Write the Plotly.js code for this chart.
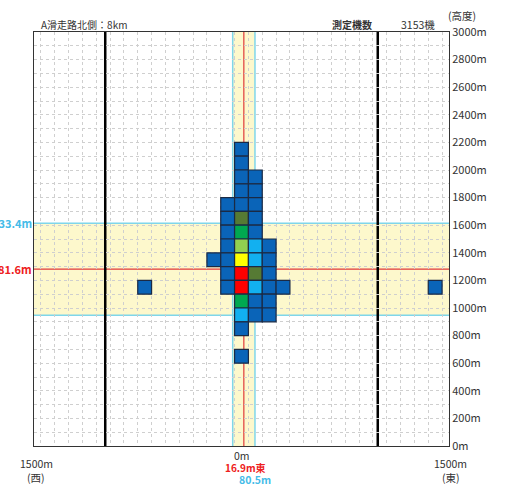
<!DOCTYPE html>
<html>
<head>
<meta charset="utf-8">
<script src="https://cdn.plot.ly/plotly-3.0.1.min.js"></script>
<style>
  html, body { margin: 0; padding: 0; background: #fff; }
  #chart { width: 508px; height: 484px; }
</style>
</head>
<body>
<div id="chart"></div>
<script>
// ---- data ----
const cellX     = [0, 0, 0, 100, 0, 100, -100, 0, 100, -100, 0, 100, -100, 0, 100,
                   -100, 0, 100, 200, -200, -100, 0, 100, 200, -100, 0, 100, 200,
                   -700, -100, 0, 100, 200, 300, 1400, 0, 100, 200, 0, 100, 200, 0, 0];
const cellBase  = [2100, 2000, 1900, 1900, 1800, 1800, 1700, 1700, 1700, 1600, 1600, 1600, 1500, 1500, 1500,
                   1400, 1400, 1400, 1400, 1300, 1300, 1300, 1300, 1300, 1200, 1200, 1200, 1200,
                   1100, 1100, 1100, 1100, 1100, 1100, 1100, 1000, 1000, 1000, 900, 900, 900, 800, 600];
// level: 1 blue, 2 light blue, 3 green, 4 light green, 5 olive, 6 yellow, 7 red
const cellLevel = [1, 1, 1, 1, 1, 1, 1, 1, 1, 1, 5, 1, 1, 3, 1,
                   1, 4, 2, 1, 1, 1, 6, 2, 1, 1, 7, 5, 1,
                   1, 1, 7, 2, 1, 1, 1, 3, 1, 1, 2, 1, 1, 1, 1];
const cellSize = 100;

const yTickVals = [0, 200, 400, 600, 800, 1000, 1200, 1400, 1600, 1800, 2000, 2200, 2400, 2600, 2800, 3000];
const yTickText = yTickVals.map(v => v + 'm');

const meanEast = 16.9;      // m east
const sdX = 80.5;
const meanAlt = 1281.6;
const sdAlt = 333.4;
const runwayEdge = 985;     // black lines
const countText = '3153機';
const titleText = 'A滑走路北側：8km';

// ---- style ----
const palette = {1: '#0a64b8', 2: '#12b0f0', 3: '#00a850', 4: '#92d050', 5: '#567a34', 6: '#ffff00', 7: '#ff0000'};
const FONT = '"Noto Sans CJK JP", "Noto Sans", sans-serif';
const L = 34, R = 449, T = 32, B = 446;
const px2paperX = px => (px - L) / (R - L);
const px2paperY = py => (B - py) / (B - T);

const trace = {
  type: 'bar',
  x: cellX,
  base: cellBase,
  y: cellX.map(() => cellSize),
  width: cellX.map(() => cellSize),
  marker: {color: cellLevel.map(l => palette[l]), line: {color: '#1b2a44', width: 1.2}},
  hoverinfo: 'skip',
  showlegend: false
};

const shapes = [
  {type: 'rect', xref: 'paper', yref: 'y', x0: 0, x1: 1, y0: meanAlt - sdAlt, y1: meanAlt + sdAlt,
   fillcolor: '#fdf8cc', line: {width: 0}, layer: 'below'},
  {type: 'rect', xref: 'x', yref: 'paper', x0: meanEast - sdX, x1: meanEast + sdX, y0: 0, y1: 1,
   fillcolor: '#fdf8cc', line: {width: 0}, layer: 'below'},
  {type: 'line', xref: 'paper', yref: 'y', x0: 0, x1: 1, y0: meanAlt + sdAlt, y1: meanAlt + sdAlt, line: {color: '#7fd6ea', width: 1.5}, layer: 'between'},
  {type: 'line', xref: 'paper', yref: 'y', x0: 0, x1: 1, y0: meanAlt - sdAlt, y1: meanAlt - sdAlt, line: {color: '#7fd6ea', width: 1.5}, layer: 'between'},
  {type: 'line', xref: 'x', yref: 'paper', x0: meanEast - sdX, x1: meanEast - sdX, y0: 0, y1: 1, line: {color: '#7fd6ea', width: 1.5}, layer: 'between'},
  {type: 'line', xref: 'x', yref: 'paper', x0: meanEast + sdX, x1: meanEast + sdX, y0: 0, y1: 1, line: {color: '#7fd6ea', width: 1.5}, layer: 'between'},
  {type: 'line', xref: 'paper', yref: 'y', x0: 0, x1: 1, y0: meanAlt, y1: meanAlt, line: {color: '#e03a3a', width: 1.2}, layer: 'between'},
  {type: 'line', xref: 'x', yref: 'paper', x0: meanEast, x1: meanEast, y0: 0, y1: 1, line: {color: '#e03a3a', width: 1.2}, layer: 'between'},
  {type: 'line', xref: 'x', yref: 'paper', x0: -runwayEdge, x1: -runwayEdge, y0: 0, y1: 1, line: {color: '#000', width: 2.5}, layer: 'between'},
  {type: 'line', xref: 'x', yref: 'paper', x0: runwayEdge, x1: runwayEdge, y0: 0, y1: 1, line: {color: '#000', width: 2.5}, layer: 'between'}
];

const txt = (text, x, y, opts) => Object.assign({
  text: text, x: x, y: y, xref: 'paper', yref: 'paper', showarrow: false,
  xanchor: 'center', yanchor: 'middle', borderpad: 0,
  font: {family: FONT, size: 11, color: '#333'}
}, opts || {});
const f = (size, color) => ({family: FONT, size: size, color: color || '#333'});

const annotations = [
  txt(titleText, px2paperX(40), px2paperY(25), {xanchor: 'left', font: f(10)}),
  txt('<b>測定機数</b>', px2paperX(373), px2paperY(25), {xanchor: 'right', font: f(10)}),
  txt(countText, px2paperX(418), px2paperY(25), {font: f(10.5)}),
  txt('(高度)', px2paperX(462), px2paperY(15), {font: f(10.5)}),
  txt('0m', 0, px2paperY(455), {xref: 'x', font: f(10.5)}),
  txt('1500m', px2paperX(36), px2paperY(463), {font: f(10.5)}),
  txt('(西)', px2paperX(36), px2paperY(478), {font: f(10.5)}),
  txt('1500m', px2paperX(451), px2paperY(463), {font: f(10.5)}),
  txt('(東)', px2paperX(451), px2paperY(478), {font: f(10.5)}),
  txt('<b>' + meanEast + 'm東</b>', meanEast + 10, px2paperY(467), {xref: 'x', font: f(10, '#ee2020')}),
  txt('<b>' + sdX + 'm</b>', meanEast + sdX, px2paperY(480), {xref: 'x', font: f(10.5, '#44bbe8')}),
  txt('<b>' + meanAlt + 'm</b>', 0, meanAlt, {yref: 'y', xanchor: 'right', xshift: -1, font: f(11, '#ee2020')}),
  txt('<b>' + sdAlt + 'm</b>', 0, meanAlt + sdAlt, {yref: 'y', xanchor: 'right', xshift: -1, font: f(11, '#44bbe8')})
];

const layout = {
  width: 508, height: 484,
  margin: {l: L, r: 508 - R, t: T, b: 484 - B, pad: 0},
  paper_bgcolor: '#fff', plot_bgcolor: '#fff',
  barmode: 'overlay', bargap: 0,
  showlegend: false,
  font: {family: FONT, size: 11, color: '#333'},
  xaxis: {
    range: [-1500, 1500], tick0: -1450, dtick: 100, showticklabels: false, ticks: '',
    showgrid: true, gridcolor: '#cfcfcf', griddash: 'dot', gridwidth: 1,
    zeroline: false, showline: true, linecolor: '#333', linewidth: 1, mirror: true, fixedrange: true
  },
  yaxis: {
    range: [0, 3000], side: 'right', tickmode: 'array', tickvals: yTickVals, ticktext: yTickText,
    ticks: '', ticklen: 0, tickfont: f(11),
    showgrid: true, gridcolor: '#cfcfcf', griddash: 'dot', gridwidth: 1,
    minor: {dtick: 100, tick0: 0, showgrid: true, gridcolor: '#cfcfcf', griddash: 'dot', gridwidth: 1},
    zeroline: false, showline: true, linecolor: '#333', linewidth: 1, mirror: true, fixedrange: true
  },
  shapes: shapes,
  annotations: annotations
};

Plotly.newPlot('chart', [trace], layout, {displayModeBar: false, staticPlot: true});
</script>
</body>
</html>
